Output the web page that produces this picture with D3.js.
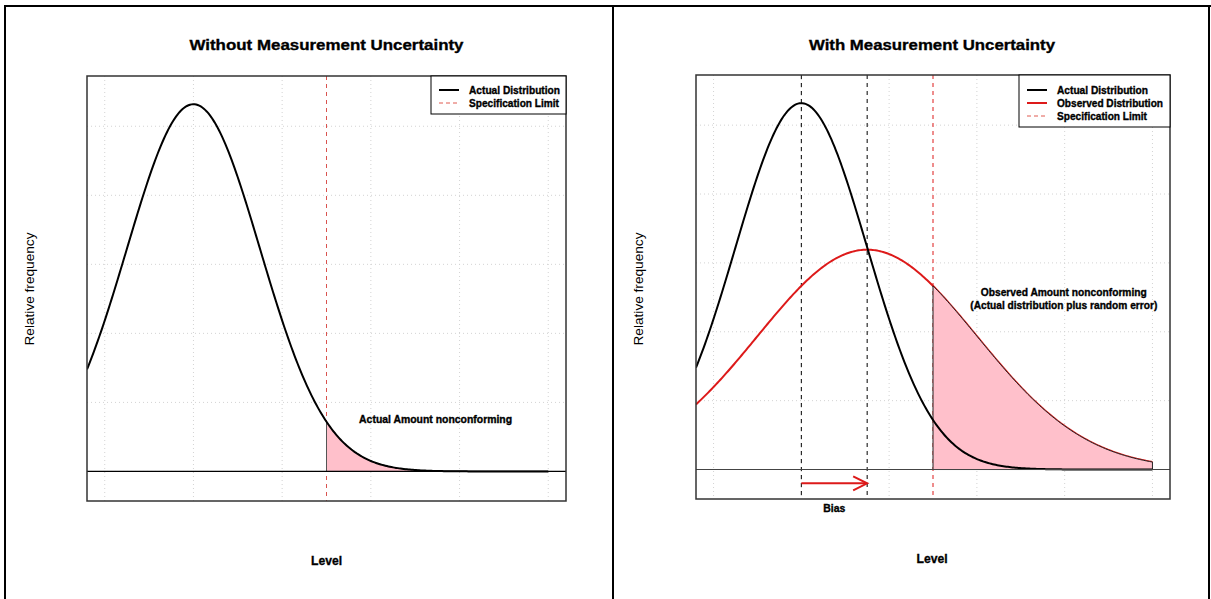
<!DOCTYPE html>
<html>
<head>
<meta charset="utf-8">
<script src="https://cdn.jsdelivr.net/npm/d3@7"></script>
<style>
  html, body { margin: 0; padding: 0; background: #fff; }
  svg { display: block; font-family: "Liberation Sans", Arial, sans-serif; }
</style>
</head>
<body>
<svg id="chart" width="1211" height="599"></svg>
<script>
// ---------------- data ----------------
const xTicks = [0, 1, 2, 3, 4, 5];              // grid positions (Level)
const yTicks = [0, 0.1, 0.2, 0.3, 0.4, 0.5];    // grid positions (Relative frequency)
const xLimits = [-0.2, 5.2];
const yLimits = [-0.0428, 0.5728];
const curveRange = [-0.2, 5];
const specLimit = 2.5;
const actualDist = { mean: 1.0, sd: 0.75 };
const observedDist = { mean: 1.75, sd: 1.25 };
const biasStart = 1.0, biasEnd = 1.75, biasY = -0.02;
const titles = ["Without Measurement Uncertainty", "With Measurement Uncertainty"];
const legendLeft = ["Actual Distribution", "Specification Limit"];
const legendRight = ["Actual Distribution", "Observed Distribution", "Specification Limit"];
const noteLeft = ["Actual Amount nonconforming"];
const noteRight = ["Observed Amount nonconforming", "(Actual distribution plus random error)"];
const xLabel = "Level", yLabel = "Relative frequency", biasLabel = "Bias";

function dnorm(x, m, s) { return Math.exp(-0.5 * ((x - m) / s) ** 2) / (s * Math.sqrt(2 * Math.PI)); }
function sample(a, b, n) { const out = []; for (let i = 0; i <= n; i++) out.push(a + (b - a) * i / n); return out; }

const svg = d3.select("#chart");
const RED = "#dd1a1a";

// table frame
const frame = svg.append("g").attr("stroke", "#000").attr("stroke-width", 2);
frame.append("line").attr("x1", 4).attr("x2", 1211).attr("y1", 6).attr("y2", 6);
frame.append("line").attr("x1", 5).attr("x2", 5).attr("y1", 5).attr("y2", 599);
frame.append("line").attr("x1", 613).attr("x2", 613).attr("y1", 5).attr("y2", 599);
frame.append("line").attr("x1", 1209).attr("x2", 1209).attr("y1", 5).attr("y2", 599);

function txt(g, s, x, y, size, weight, len, anchor, rot) {
  const t = g.append("text").text(s).attr("x", x).attr("y", y)
    .attr("font-size", size).attr("font-weight", weight)
    .attr("text-anchor", anchor || "middle").attr("fill", "#000");
  if (weight === "bold") t.attr("stroke", "#000").attr("stroke-width", 0.35);
  if (len) t.attr("textLength", len).attr("lengthAdjust", "spacingAndGlyphs");
  if (rot) t.attr("transform", `rotate(-90,${x},${y})`);
  return t;
}

function panel(cfg) {
  const g = svg.append("g");
  const x = d3.scaleLinear().domain(xLimits).range([cfg.box[0], cfg.box[1]]);
  const y = d3.scaleLinear().domain(yLimits).range([cfg.box[3], cfg.box[2]]);
  const clipId = "clip" + cfg.id;
  g.append("clipPath").attr("id", clipId).append("rect")
    .attr("x", cfg.box[0]).attr("y", cfg.box[2])
    .attr("width", cfg.box[1] - cfg.box[0]).attr("height", cfg.box[3] - cfg.box[2]);
  const inner = g.append("g").attr("clip-path", `url(#${clipId})`);

  // grid
  inner.append("g").selectAll("line").data(xTicks).join("line")
    .attr("x1", d => x(d)).attr("x2", d => x(d))
    .attr("y1", cfg.box[2]).attr("y2", cfg.box[3])
    .attr("stroke", "#d3d3d3").attr("stroke-width", 1).attr("stroke-dasharray", "1,3");
  inner.append("g").selectAll("line").data(yTicks).join("line")
    .attr("x1", cfg.box[0]).attr("x2", cfg.box[1])
    .attr("y1", d => y(d)).attr("y2", d => y(d))
    .attr("stroke", "#d3d3d3").attr("stroke-width", 1).attr("stroke-dasharray", "1,3");

  // vertical reference lines
  cfg.vlines.forEach(v => {
    inner.append("line").attr("x1", x(v.at)).attr("x2", x(v.at))
      .attr("y1", cfg.box[2]).attr("y2", cfg.box[3])
      .attr("stroke", v.color).attr("stroke-width", 1).attr("stroke-dasharray", "4,4");
  });

  const line = d3.line().x(d => x(d[0])).y(d => y(d[1]));
  const pts = dist => sample(curveRange[0], curveRange[1], 300).map(v => [v, dnorm(v, dist.mean, dist.sd)]);

  if (cfg.observed) {
    inner.append("path").attr("d", line(pts(observedDist))).attr("fill", "none")
      .attr("stroke", RED).attr("stroke-width", 2);
  }
  // shaded nonconforming area
  const fd = cfg.observed ? observedDist : actualDist;
  const area = sample(specLimit, curveRange[1], 150).map(v => [v, dnorm(v, fd.mean, fd.sd)]);
  const poly = [[specLimit, 0], ...area, [curveRange[1], 0]];
  inner.append("path").attr("d", line(poly) + "Z").attr("fill", "#ffc0cb")
    .attr("stroke", cfg.observed ? "#222" : "#555").attr("stroke-width", 1);

  inner.append("path").attr("d", line(pts(actualDist))).attr("fill", "none")
    .attr("stroke", "#000").attr("stroke-width", 2);

  // baseline
  inner.append("line").attr("x1", cfg.box[0]).attr("x2", cfg.box[1])
    .attr("y1", y(0)).attr("y2", y(0)).attr("stroke", cfg.observed ? "#444" : "#000").attr("stroke-width", 1.2);

  // box
  g.append("rect").attr("x", cfg.box[0]).attr("y", cfg.box[2])
    .attr("width", cfg.box[1] - cfg.box[0]).attr("height", cfg.box[3] - cfg.box[2])
    .attr("fill", "none").attr("stroke", "#333").attr("stroke-width", 1.5);

  // bias arrow
  if (cfg.observed) {
    const ay = y(biasY), x1 = x(biasStart), x2 = x(biasEnd);
    g.append("line").attr("x1", x1).attr("x2", x2).attr("y1", ay).attr("y2", ay)
      .attr("stroke", RED).attr("stroke-width", 2);
    g.append("path").attr("d", `M${x2 - 14},${ay - 7}L${x2},${ay}L${x2 - 14},${ay + 7}`)
      .attr("fill", "none").attr("stroke", RED).attr("stroke-width", 2);
    txt(g, biasLabel, x((biasStart + biasEnd) / 2), y(biasY) + 29, 10.5, "bold", 22);
  }

  // legend
  const L = cfg.legend;
  g.append("rect").attr("x", L.x).attr("y", cfg.box[2]).attr("width", cfg.box[1] - L.x)
    .attr("height", L.h).attr("fill", "#fff").attr("stroke", "#000").attr("stroke-width", 1);
  L.items.forEach((it, i) => {
    const cy = L.y0 + i * 13;
    g.append("line").attr("x1", L.x + 8).attr("x2", L.x + 28).attr("y1", cy).attr("y2", cy)
      .attr("stroke", it.color).attr("stroke-width", it.dash ? 1 : 2)
      .attr("stroke-dasharray", it.dash ? "4,3" : null);
    txt(g, it.label, L.x + 38, cy + 4, 10.5, "bold", it.len, "start");
  });

  // titles and labels
  const cx = (cfg.box[0] + cfg.box[1]) / 2;
  txt(g, cfg.title, cx + cfg.titleDx, 50, 15.5, "bold", cfg.titleLen);
  txt(g, xLabel, cx + cfg.titleDx, cfg.levelY, 13, "bold", 31);
  txt(g, yLabel, cfg.ylabX, 289, 12.5, "normal", 113, "middle", true);
  cfg.notes.forEach((n, i) => txt(g, n.text, x(n.x), y(n.y) + i * 13 + 4, 10.5, "bold", n.len));
}

panel({
  id: "L", box: [87, 566, 76, 501], title: titles[0], titleLen: 274, titleDx: 0,
  levelY: 565, ylabX: 34, observed: false,
  vlines: [{ at: specLimit, color: "#d9534f" }],
  legend: { x: 431, h: 38, y0: 90, items: [
    { label: legendLeft[0], color: "#000", dash: false, len: 91 },
    { label: legendLeft[1], color: "#e05a50", dash: true, len: 90 } ] },
  notes: [{ text: noteLeft[0], x: 3.73, y: 0.076, len: 153 }]
});

panel({
  id: "R", box: [696, 1170, 75, 499], title: titles[1], titleLen: 246, titleDx: -1,
  levelY: 563, ylabX: 643, observed: true,
  vlines: [{ at: biasStart, color: "#000" }, { at: biasEnd, color: "#000" }, { at: specLimit, color: RED }],
  legend: { x: 1019, h: 52, y0: 90, items: [
    { label: legendRight[0], color: "#000", dash: false, len: 91 },
    { label: legendRight[1], color: RED, dash: false, len: 106 },
    { label: legendRight[2], color: "#e05a50", dash: true, len: 90 } ] },
  notes: [{ text: noteRight[0], x: 3.99, y: 0.258, len: 166 },
          { text: noteRight[1], x: 3.99, y: 0.258, len: 187 }]
});
</script>
</body>
</html>
